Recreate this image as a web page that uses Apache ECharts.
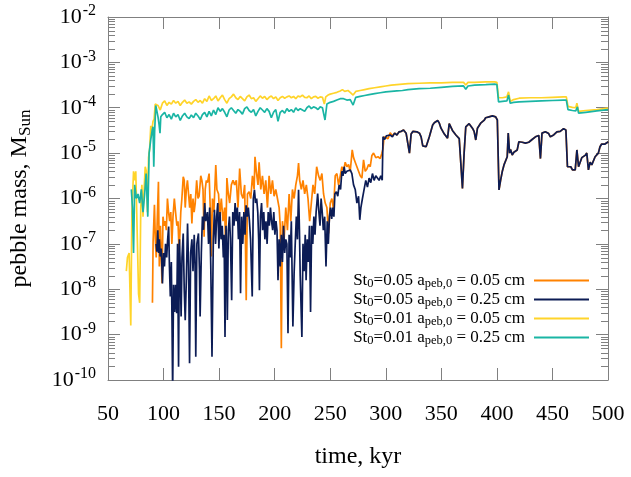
<!DOCTYPE html>
<html><head><meta charset="utf-8">
<script src="https://cdn.jsdelivr.net/npm/echarts@6/dist/echarts.min.js"></script>
<style>html,body{margin:0;padding:0;background:#fff}#c{width:631px;height:477px}</style>
</head><body><div id="c"></div>
<script>
// ---- data: [time (kyr), log10(pebble mass / M_Sun)] ----
const seriesNames = [
  'St0=0.05 apeb,0 = 0.05 cm',
  'St0=0.05 apeb,0 = 0.25 cm',
  'St0=0.01 apeb,0 = 0.05 cm',
  'St0=0.01 apeb,0 = 0.25 cm'
];
const xTickValues = [50,100,150,200,250,300,350,400,450,500];
const yDecadeExponents = [-10,-9,-8,-7,-6,-5,-4,-3,-2];

const orangeEarly = [[90.0,-8.3],[90.6,-6.95],[91.8,-6.14],[92.6,-6.9],[93.4,-7.3],[94.3,-6.5],[95.4,-5.63],[96.2,-7.5],[97.2,-6.6],[98.6,-7.87],[99.5,-6.4],[100.5,-6.6],[101.5,-6.5],[102.5,-6.7],[103.5,-6.0],[104.5,-6.3],[105.5,-6.5],[106.5,-6.3],[107.5,-7.0],[108.5,-6.4],[109.7,-6.0],[110.8,-6.3],[112,-6.6],[113,-6.5],[114,-7.2],[115.5,-6.3],[116.5,-6.0],[117.7,-5.52],[118.6,-5.6],[119.5,-6.2],[120.5,-5.8],[121.5,-5.6],[122.5,-5.9],[123.5,-6.2],[124.5,-5.9],[125.5,-6.55],[126.5,-6.0],[127.5,-6.3],[128.5,-6.1],[129.8,-5.6],[131,-6.0],[132,-5.95],[133.5,-5.5],[134.5,-5.6],[135.5,-5.8],[136.5,-6.84],[137.5,-5.8],[138.5,-5.6],[139.5,-5.65],[141,-5.45],[142,-6.2],[143,-7.28],[144,-6.0],[145.3,-6.3],[147,-5.26],[148,-5.8],[149.5,-5.9],[150.5,-6.4],[152,-6.0],[153.5,-6.5],[155,-6.2],[155.9,-7.13],[157,-5.55],[158.3,-5.9],[159.5,-6.1],[161,-5.7],[162.5,-5.6],[164,-5.7],[165.5,-5.6],[167,-6.2],[168.5,-5.34],[170,-5.9],[171.5,-6.0],[173,-5.7],[174.4,-8.24],[175.5,-5.9],[177,-5.85],[178.5,-6.0],[180,-5.5],[181.5,-5.8],[182.3,-5.08],[183.5,-5.4],[185,-5.7],[186,-5.2],[187.5,-5.8],[189,-5.5],[190.5,-5.9],[192,-5.6],[193.5,-6.2],[195,-5.5],[196.5,-5.9],[198,-5.6],[199.5,-5.95],[201,-5.8],[202.5,-6.0],[204,-6.2],[205,-6.6],[206,-9.3],[207,-6.5],[208.5,-6.9],[210,-6.2],[211.5,-6.7],[213,-5.9],[214.5,-6.5],[216,-5.8],[217.5,-6.0],[219,-5.7],[220.5,-5.5],[221.5,-5.22],[222.5,-5.6],[224,-5.8],[225.5,-5.6],[227,-5.9],[228.5,-5.7],[230,-6.0],[231.5,-6.5],[233,-6.1],[234.5,-5.7],[236,-5.9],[237.8,-5.3],[239.5,-5.5],[241,-5.6],[242.5,-5.45],[244,-5.9],[245.5,-6.1],[247,-6.2],[248.5,-6.77],[250,-6.1],[251.5,-6.0],[253,-6.25],[254.5,-5.5],[256,-5.45],[257.5,-5.7],[259,-5.5],[260.5,-5.3],[262,-5.4],[263.5,-5.2],[265,-5.3],[266.5,-5.25],[268,-5.4],[269.8,-4.93],[271,-5.1],[272.5,-5.2],[274,-5.2],[275.5,-5.4],[277,-5.5],[278.5,-5.55],[280,-5.15],[281.5,-5.4],[283,-5.35],[284.5,-5.25],[286,-5.3],[287.5,-5.05],[289,-5.0],[291,-5.1],[293,-5.08],[295,-5.12],[296.5,-5.0],[297.5,-4.9],[298.5,-4.64],[300,-4.62],[302,-4.68],[304,-4.55],[306,-4.62]];

const navyEarly = [[93.3,-7.0],[94,-7.17],[94.8,-6.7],[95.5,-7.2],[96.2,-6.9],[97,-7.28],[98,-7.1],[99,-7.87],[100,-7.2],[100.8,-7.5],[101.8,-7.0],[102.8,-7.3],[103.7,-6.9],[104.6,-6.62],[105.3,-7.5],[106.1,-8.16],[107,-7.4],[107.6,-8.68],[108.2,-10.3],[109,-7.9],[110,-8.5],[110.8,-7.9],[111.8,-8.53],[112.6,-7.0],[113.5,-9.71],[114.3,-6.9],[115,-7.5],[115.8,-8.6],[116.6,-7.3],[117.7,-6.77],[118.6,-8.0],[119.5,-8.68],[120.5,-7.8],[121.6,-6.55],[122.5,-7.5],[123.4,-9.63],[124.4,-7.2],[125.5,-6.9],[126.5,-7.6],[127.6,-6.8],[128.3,-7.4],[129,-9.49],[130,-7.0],[131.4,-6.77],[132.3,-7.57],[132.9,-8.6],[134,-7.2],[135,-6.4],[136,-6.69],[137,-6.1],[138,-6.5],[139.5,-6.3],[140.5,-7.0],[141.5,-6.2],[142.5,-7.5],[143.6,-9.49],[144.8,-6.9],[145.8,-6.25],[146.8,-7.0],[147.8,-6.4],[148.8,-6.1],[149.8,-7.1],[150.8,-6.3],[151.8,-6.9],[152.8,-6.6],[153.8,-7.3],[154.5,-6.8],[155.3,-9.05],[156.2,-6.6],[157,-7.3],[157.4,-8.68],[158.3,-6.7],[159.3,-6.4],[160.2,-6.9],[161.3,-8.24],[162.3,-6.3],[163.4,-6.6],[164.4,-6.1],[165.4,-6.5],[166.4,-6.2],[167.4,-6.9],[168.4,-6.3],[169.3,-8.09],[170.3,-6.4],[171.3,-7.0],[172.3,-6.3],[173.3,-6.8],[174.3,-6.15],[175.3,-6.4],[176.3,-6.2],[177.3,-6.5],[178.3,-6.9],[179.8,-8.16],[180.8,-6.0],[181.8,-5.81],[182.8,-6.1],[183.8,-6.0],[184.8,-6.3],[185.6,-6.9],[186.3,-8.02],[187.2,-6.4],[188.2,-6.1],[189.2,-6.7],[190.2,-6.3],[191.2,-6.9],[192.2,-6.5],[193.2,-7.0],[194.2,-6.3],[195.2,-6.6],[196.2,-6.2],[197.2,-6.5],[198.2,-6.7],[199.2,-6.3],[200.2,-6.8],[201.2,-6.5],[202.1,-6.7],[203,-7.8],[204,-6.9],[205,-7.5],[206,-6.8],[207,-7.4],[208,-6.6],[209,-7.2],[210,-6.9],[211,-7.0],[212,-8.97],[213,-6.8],[214,-7.3],[215,-6.5],[216.4,-8.82],[217.5,-7.65],[218.5,-7.0],[219.5,-6.4],[220.5,-6.9],[221.5,-5.81],[222.3,-6.7],[223,-7.7],[224.5,-9.05],[225.5,-7.0],[226.5,-7.6],[227.5,-6.8],[228.3,-7.8],[229.3,-6.9],[230.3,-7.4],[231.3,-6.6],[232.3,-8.5],[233.3,-6.6],[234.3,-7.0],[235.3,-6.4],[236.3,-6.8],[237.3,-6.3],[238.7,-5.89],[239.8,-6.3],[240.8,-6.6],[241.8,-6.0],[242.8,-6.3],[243.8,-6.7],[245,-6.4],[246.2,-7.5],[247.3,-6.5],[248.3,-7.0],[249.3,-6.4],[250.3,-6.2],[251.3,-6.45],[252.3,-6.2],[253.3,-6.4],[254.2,-5.9],[255.5,-5.85],[256.8,-5.95],[258,-5.7],[259.3,-5.8],[260.5,-5.4],[261.5,-5.5],[262.5,-5.3],[263.5,-5.45],[265,-5.4],[266.5,-5.4],[268,-5.37],[269.5,-5.45],[271,-5.7],[272.5,-5.8],[274,-6.1],[275.5,-5.95],[276.6,-6.47],[277.6,-6.2],[279,-6.0],[280.5,-5.8],[282,-5.6],[283.5,-5.75],[285,-5.55],[286.5,-5.65],[288,-5.45],[289.5,-5.6],[291,-5.5],[292.5,-5.55],[294,-5.6],[295.5,-5.5],[296.8,-5.6],[297.5,-4.64],[299,-4.7],[300.5,-4.62],[302,-4.66],[304,-4.6],[306,-4.64]];

// after ~308 kyr the two St0=0.05 curves coincide
const st005Late = [[308,-4.56],[310,-4.6],[312,-4.53],[314,-4.52],[316,-4.49],[318.3,-4.56],[319.8,-4.6],[321.3,-5.0],[322.8,-4.58],[324.5,-4.52],[326,-4.5],[328,-4.53],[330.3,-4.56],[331.8,-4.64],[333.3,-4.84],[334.7,-4.8],[336.3,-4.86],[337.7,-4.82],[339.2,-4.64],[340.7,-4.62],[342.2,-4.38],[343.7,-4.33],[345.2,-4.31],[346.7,-4.28],[348.2,-4.34],[349.7,-4.45],[351.2,-4.49],[352.7,-4.58],[354.1,-4.62],[355.6,-4.67],[357.1,-4.35],[358.6,-4.31],[360,-4.5],[361.6,-4.53],[363.1,-4.6],[364.6,-4.64],[366.1,-4.68],[367.6,-4.72],[369,-5.78],[370.5,-5.0],[372,-4.42],[373.5,-4.38],[375,-4.35],[376.5,-4.31],[378,-4.45],[379.5,-4.52],[381,-4.71],[382.5,-4.45],[384,-4.46],[385.4,-4.34],[387,-4.3],[388.4,-4.28],[389.9,-4.22],[391.4,-4.25],[392.9,-4.2],[394.4,-4.22],[396,-4.18],[397.5,-4.2],[398.9,-4.2],[400.4,-4.27],[401.9,-5.81],[403.4,-5.59],[404.9,-5.4],[406.4,-5.26],[407.8,-5.3],[409.3,-5.08],[410.2,-4.56],[411.4,-5.0],[412.3,-4.92],[413.8,-5.04],[415.3,-4.98],[416.8,-5.0],[418.3,-4.93],[419.8,-4.75],[421.3,-4.71],[422.8,-4.76],[424.3,-4.75],[425.7,-4.78],[427.2,-4.75],[428.7,-4.76],[430.2,-4.72],[431.7,-4.7],[433.2,-4.67],[434.7,-4.64],[436.2,-4.6],[437.7,-4.61],[439.2,-5.12],[440.6,-4.56],[442.1,-4.57],[443.6,-4.53],[445.1,-4.54],[446.6,-4.57],[448.1,-4.64],[449.6,-4.67],[451.1,-4.6],[452.6,-4.61],[454,-4.53],[455.5,-4.5],[457,-4.52],[458.5,-4.49],[460,-4.46],[461.5,-4.45],[462.1,-4.49],[463.5,-5.3],[465,-5.32],[466.5,-5.3],[468,-5.37],[469.5,-5.33],[470.5,-5.37],[472,-4.93],[473.5,-5.3],[475,-5.28],[476.4,-5.1],[477.9,-5.08],[479.4,-5.05],[480.9,-5.0],[482.4,-5.37],[483.9,-5.2],[485.4,-5.26],[486.9,-5.22],[488.4,-5.08],[489.9,-5.05],[491.3,-5.0],[492.8,-4.86],[494.3,-4.8],[495.8,-4.78],[497.3,-4.8],[498.8,-4.76],[500.3,-4.75]];

const yellowData = [[66.5,-7.6],[67.5,-7.3],[69,-7.2],[70.5,-8.8],[71.5,-6.3],[73,-5.4],[74,-5.6],[75,-5.4],[76.5,-7.0],[77.5,-8.1],[78.5,-8.3],[79.5,-6.2],[80.5,-5.7],[81.5,-6.4],[82.5,-5.8],[83.5,-5.3],[84.5,-5.4],[85.5,-6.3],[86.5,-5.1],[87.5,-4.9],[88.5,-4.4],[89.5,-4.5],[90.5,-4.3],[91.5,-4.25],[92.5,-3.92],[93.5,-3.88],[95,-3.95],[97,-4.05],[99,-3.9],[101,-3.85],[103,-3.95],[105,-3.88],[107,-3.92],[109,-3.84],[111,-3.9],[113,-3.86],[115,-3.95],[117,-3.88],[119,-3.83],[121,-3.9],[123,-3.87],[125,-3.92],[127,-3.86],[129,-3.82],[131,-3.88],[133,-3.84],[135,-3.9],[137,-3.8],[139,-3.86],[141,-3.74],[143,-3.84],[145,-3.8],[147,-3.74],[149,-3.85],[151,-3.78],[153,-3.72],[155,-3.82],[157,-3.9],[159,-3.8],[161,-3.76],[163,-3.7],[165,-3.78],[167,-3.82],[169,-3.75],[171,-3.8],[173,-3.85],[175,-3.76],[177,-3.72],[179,-3.8],[181,-3.78],[183,-3.86],[185,-3.8],[187,-3.74],[189,-3.79],[191,-3.75],[193,-3.82],[195,-3.77],[197,-3.74],[199,-3.8],[201,-3.76],[203,-3.84],[205,-3.78],[207,-3.75],[209,-3.79],[211,-3.76],[213,-3.74],[215,-3.78],[217,-3.75],[219,-3.8],[221,-3.74],[223,-3.76],[225,-3.72],[227,-3.77],[229,-3.78],[231,-3.74],[233,-3.8],[235,-3.76],[237,-3.75],[239,-3.79],[241,-3.76],[243,-3.77],[244.7,-3.92],[246,-3.76],[248,-3.72],[250,-3.7],[253,-3.68],[256,-3.66],[259,-3.63],[261,-3.6],[263,-3.64],[266,-3.62],[268,-3.66],[270.6,-3.72],[273,-3.64],[277,-3.62],[281,-3.6],[285,-3.58],[290,-3.56],[295,-3.54],[300,-3.52],[305,-3.5],[310,-3.49],[315,-3.48],[320,-3.47],[330,-3.46],[340,-3.45],[350,-3.45],[360,-3.44],[370,-3.44],[372,-3.5],[374,-3.44],[380,-3.44],[390,-3.43],[398,-3.43],[400,-3.44],[401.5,-3.78],[405,-3.78],[409,-3.76],[410.5,-3.65],[412,-3.86],[415,-3.82],[420,-3.79],[430,-3.78],[440,-3.78],[450,-3.77],[460,-3.76],[462.5,-3.76],[464,-3.97],[468,-3.99],[471,-4.0],[472,-3.9],[473.5,-4.08],[480,-4.06],[490,-4.04],[500,-4.01]];

const tealData = [[71,-5.8],[72,-6.2],[73,-7.2],[74,-5.7],[75.5,-6.0],[77,-5.9],[78.5,-6.1],[80,-5.8],[81.5,-6.3],[83,-5.9],[84.3,-5.45],[85.8,-6.4],[87,-5.0],[88.5,-4.7],[89.7,-4.5],[90.5,-4.42],[91.2,-5.3],[92,-4.5],[93,-3.95],[94,-3.96],[95,-4.2],[96,-4.38],[96.8,-4.56],[97.5,-4.2],[99,-4.15],[101,-4.1],[103,-4.22],[105,-4.15],[107,-4.25],[109,-4.12],[111,-4.2],[113,-4.15],[115,-4.28],[117,-4.18],[119,-4.12],[121,-4.2],[123,-4.24],[125,-4.16],[127,-4.22],[129,-4.12],[131,-4.18],[133,-4.26],[135,-4.15],[137,-4.1],[139,-4.2],[141,-4.08],[143,-4.18],[145,-4.05],[147,-4.15],[149,-4.0],[151,-4.08],[153,-4.02],[155,-4.1],[157,-4.2],[159,-4.05],[161,-4.0],[163,-4.06],[165,-4.12],[167,-4.04],[169,-4.08],[171,-4.14],[173,-4.02],[175,-3.98],[177,-4.06],[179,-4.1],[181,-4.04],[183,-4.18],[185,-4.08],[187,-4.0],[189,-4.05],[191,-4.1],[193,-4.02],[195,-4.08],[197,-4.22],[199,-4.1],[201,-4.04],[203,-4.3],[205,-4.1],[207,-4.06],[209,-4.12],[211,-4.02],[213,-4.08],[215,-4.04],[217,-4.1],[219,-4.0],[221,-4.06],[223,-4.02],[225,-4.05],[227,-4.08],[229,-4.0],[231,-3.96],[233,-4.02],[235,-3.98],[237,-4.0],[239,-4.04],[241,-3.98],[243,-4.0],[245.3,-4.27],[247,-3.92],[250,-3.88],[253,-3.86],[256,-3.83],[259,-3.8],[262,-3.8],[265,-3.83],[268,-3.82],[270.6,-3.94],[273,-3.77],[277,-3.75],[281,-3.73],[285,-3.71],[290,-3.69],[295,-3.67],[300,-3.65],[305,-3.64],[310,-3.63],[315,-3.62],[320,-3.6],[330,-3.58],[340,-3.57],[350,-3.55],[360,-3.53],[370,-3.52],[372,-3.59],[374,-3.52],[380,-3.5],[390,-3.49],[398,-3.48],[400,-3.49],[401.5,-3.87],[405,-3.86],[409,-3.85],[410.5,-3.72],[412,-3.9],[415,-3.88],[420,-3.87],[430,-3.86],[440,-3.85],[450,-3.84],[460,-3.83],[462.5,-3.83],[464,-4.04],[468,-4.06],[471,-4.07],[472.5,-3.98],[473.5,-4.12],[480,-4.1],[490,-4.07],[500,-4.04]];

// ---- chart ----
const FONT = 'Liberation Serif';
const AX = '#808080';
const toMass = arr => arr.map(p => [p[0], Math.pow(10, p[1])]);

const minorTicks = [];
yDecadeExponents.slice(0, -1).forEach(e => {
  for (let k = 2; k <= 9; k++) minorTicks.push([xTickValues[0], k * Math.pow(10, e)]);
});

function legendFmt(name) {
  const m = name.match(/^St0=([\d.]+) apeb,0 = ([\d.]+) cm$/);
  return '{b|St}{s|0}{b|=' + m[1] + ' a}{s|peb,0}{z| = ' + m[2] + ' cm}';
}

const chart = echarts.init(document.getElementById('c'), null, {renderer: 'canvas'});
const lineSeries = (name, data, color) => ({
  name, type: 'line', data, showSymbol: false, symbol: 'none',
  lineStyle: {color, width: 1.7}, itemStyle: {color}, clip: true, z: 3
});

chart.setOption({
  animation: false,
  backgroundColor: '#fff',
  grid: {left: 105, right: 23, top: 17, bottom: 97},
  xAxis: [{
    type: 'value', min: 50, max: 500, interval: 50, position: 'bottom',
    axisLine: {show: true, lineStyle: {color: AX}},
    axisTick: {show: true, inside: true, length: 12, lineStyle: {color: AX}},
    axisLabel: {fontFamily: FONT, fontSize: 22, color: '#000', margin: 23},
    splitLine: {show: false},
    name: 'time, kyr', nameLocation: 'middle', nameGap: 65,
    nameTextStyle: {fontFamily: FONT, fontSize: 24, color: '#000'}
  }, {
    type: 'value', min: 50, max: 500, interval: 50, position: 'top',
    axisLine: {show: true, lineStyle: {color: AX}},
    axisTick: {show: true, inside: true, length: 12, lineStyle: {color: AX}},
    axisLabel: {show: false}, splitLine: {show: false}
  }],
  yAxis: [{
    type: 'log', logBase: 10, min: 1e-10, max: 1e-2, splitNumber: 8, position: 'left',
    axisLine: {show: true, lineStyle: {color: AX}},
    axisTick: {show: true, inside: true, length: 12, lineStyle: {color: AX}},
    axisLabel: {
      margin: 12,
      formatter: v => '{b|10}{e|' + Math.round(Math.log10(v)) + '}',
      rich: {
        b: {fontFamily: FONT, fontSize: 22, color: '#000', lineHeight: 28},
        e: {fontFamily: FONT, fontSize: 16, color: '#000', lineHeight: 16, verticalAlign: 'top', padding: [0, 0, 0, 1]}
      }
    },
    splitLine: {show: false},
    name: '{b|pebble mass, M}{s|Sun}', nameLocation: 'middle', nameGap: 74,
    nameTextStyle: {
      rich: {
        b: {fontFamily: FONT, fontSize: 24, color: '#000', lineHeight: 28},
        s: {fontFamily: FONT, fontSize: 17, color: '#000', lineHeight: 15, verticalAlign: 'bottom'}
      }
    }
  }, {
    type: 'log', logBase: 10, min: 1e-10, max: 1e-2, splitNumber: 8, position: 'right',
    axisLine: {show: true, lineStyle: {color: AX}},
    axisTick: {show: true, inside: true, length: 12, lineStyle: {color: AX}},
    axisLabel: {show: false}, splitLine: {show: false}
  }],
  legend: {
    orient: 'vertical', right: 37, top: 266, align: 'right',
    icon: 'rect', itemWidth: 55, itemHeight: 2, itemGap: 0,
    data: seriesNames, formatter: legendFmt, selectedMode: false,
    textStyle: {
      fontFamily: FONT, fontSize: 17, color: '#000', lineHeight: 19,
      rich: {
        b: {fontFamily: FONT, fontSize: 17, color: '#000', lineHeight: 19},
        z: {fontFamily: FONT, fontSize: 17, color: '#000', lineHeight: 19, padding: [0, 4, 0, 0]},
        s: {fontFamily: FONT, fontSize: 12.5, color: '#000', lineHeight: 12, verticalAlign: 'bottom'}
      }
    }
  },
  series: [
    {
      type: 'custom', name: 'minorTicks', data: minorTicks, silent: true, z: 2,
      renderItem: (params, api) => {
        const v = api.value(1);
        const pl = api.coord([50, v]), pr = api.coord([500, v]);
        const y = Math.round(pl[1]) + 0.5;
        const st = {stroke: AX, lineWidth: 1};
        return {type: 'group', children: [
          {type: 'line', shape: {x1: pl[0], y1: y, x2: pl[0] + 7, y2: y}, style: st},
          {type: 'line', shape: {x1: pr[0] - 7, y1: y, x2: pr[0], y2: y}, style: st}
        ]};
      }
    },
    lineSeries(seriesNames[0], toMass(orangeEarly.concat(st005Late)), '#ff8200'),
    lineSeries(seriesNames[1], toMass(navyEarly.concat(st005Late)), '#0c1c55'),
    lineSeries(seriesNames[2], toMass(yellowData), '#ffd42a'),
    lineSeries(seriesNames[3], toMass(tealData), '#1ab5a4')
  ]
});
</script>
</body></html>
